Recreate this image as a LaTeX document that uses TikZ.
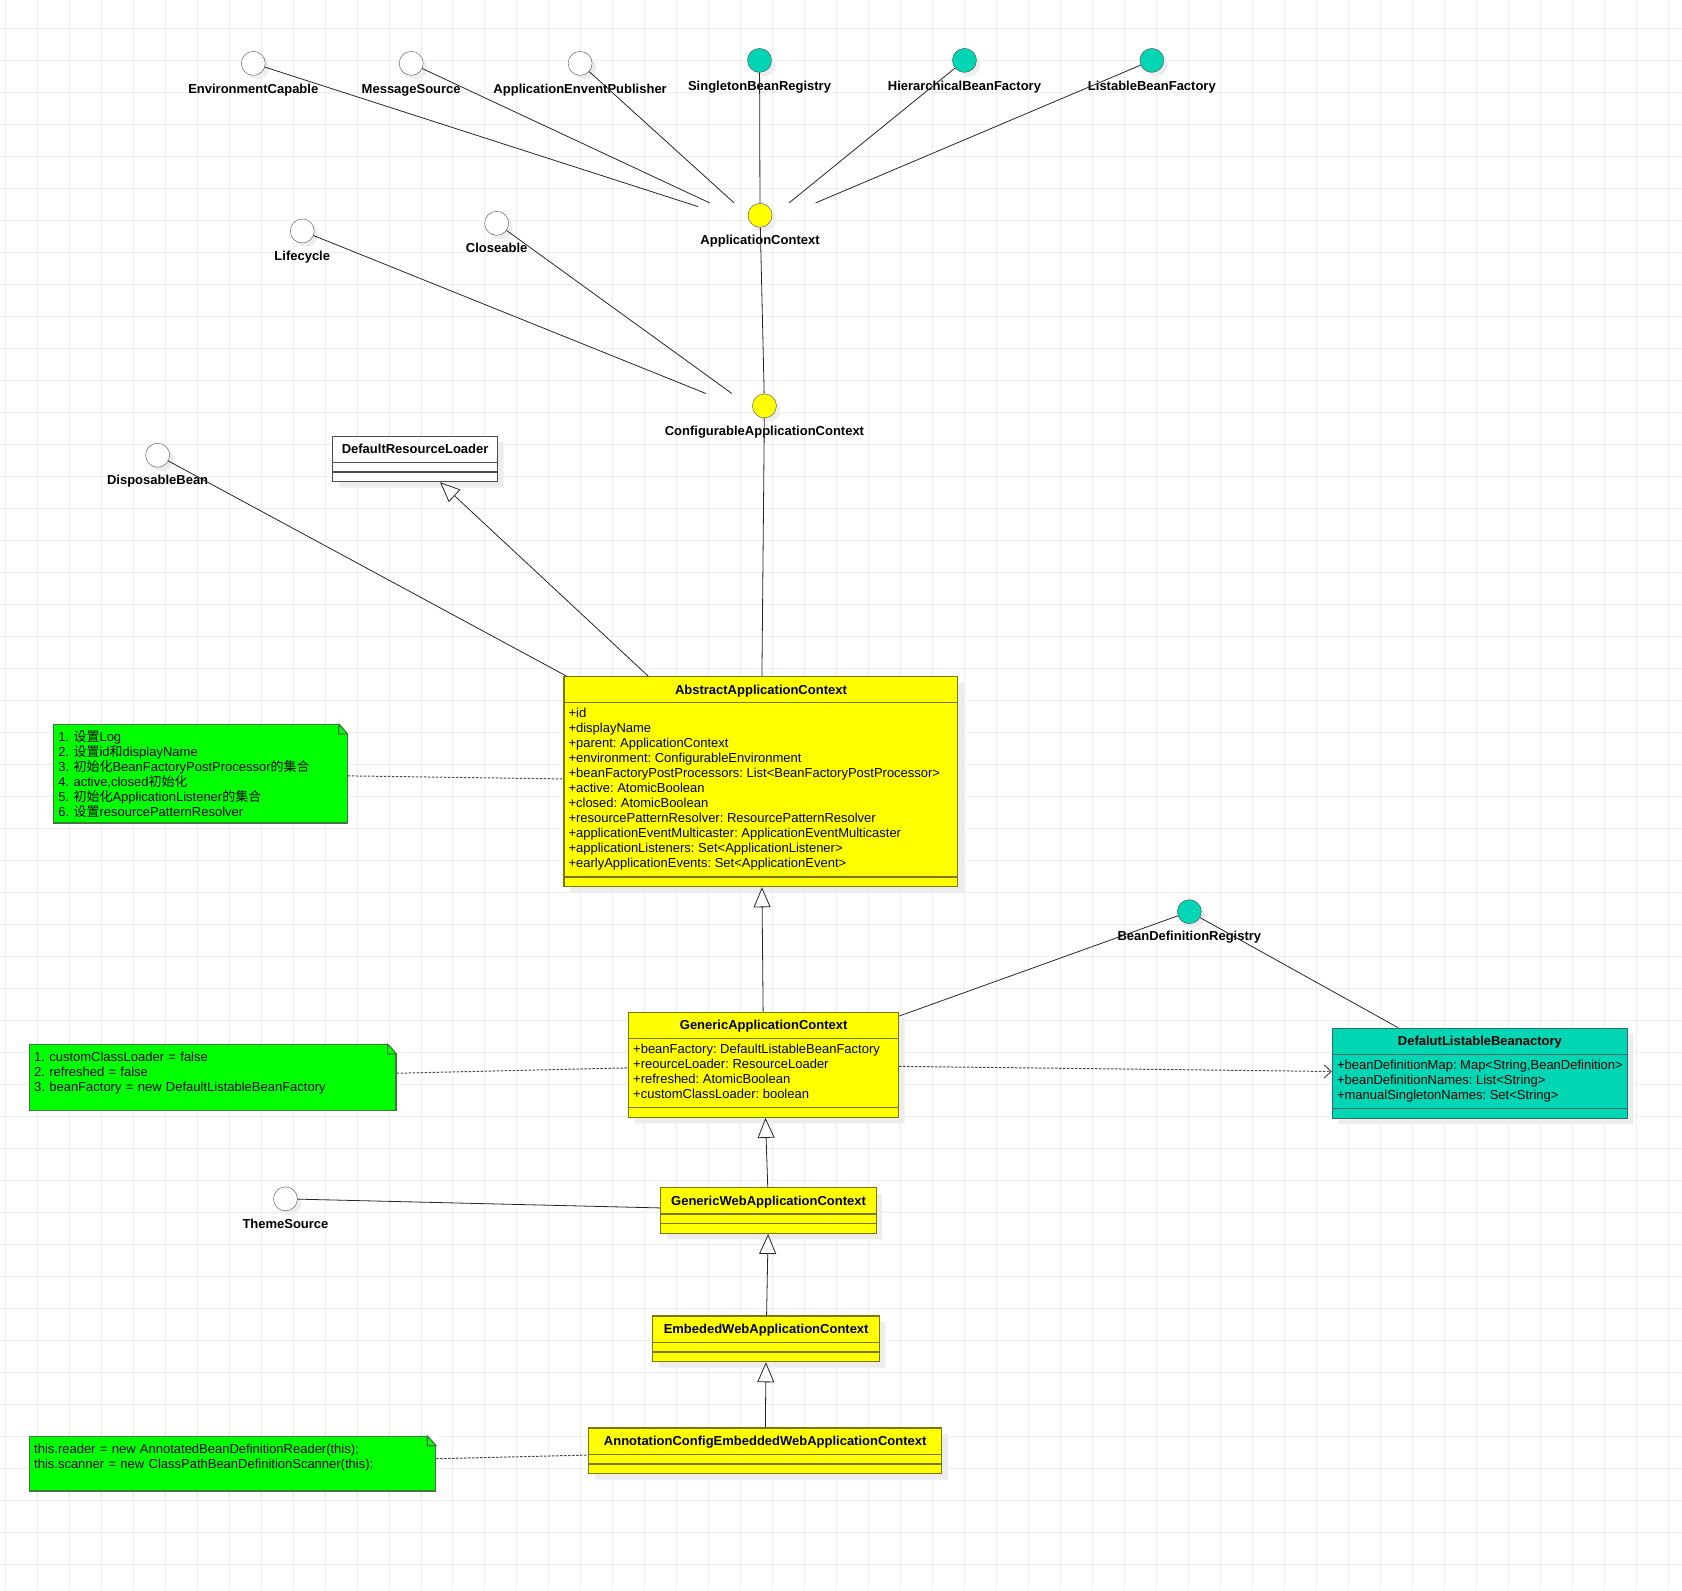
\documentclass[tikz,border=0pt]{standalone}
\usepackage{fontspec}
\setmainfont{Liberation Sans}
\newfontfamily\zhfont{Noto Sans CJK SC}
\usetikzlibrary{arrows.meta,shapes.multipart,shadows,fit}
\frenchspacing

\definecolor{umlyellow}{HTML}{FFFF00}
\definecolor{umlolive}{HTML}{77770A}
\definecolor{umlteal}{HTML}{00D6B4}
\definecolor{umldarkteal}{HTML}{2E6E64}
\definecolor{notegreen}{HTML}{00FF00}
\definecolor{notedark}{HTML}{3C7A3C}
\definecolor{gridgray}{HTML}{EEEEEE}

\newcommand{\zh}[1]{{\zhfont #1}}
\newcommand{\hstrut}{\rule[-4pt]{0pt}{17pt}}
\newcommand{\epart}{\rule{0pt}{0.5pt}}

\begin{document}
\begin{tikzpicture}[x=1pt, y=-1pt, font=\fontsize{13}{15}\selectfont,
  iface/.style={circle, draw=black!70, fill=white, minimum size=24pt, inner sep=0pt,
    drop shadow={shadow xshift=4pt, shadow yshift=-4pt, opacity=1, fill=black!7}},
  iname/.style={anchor=base, font=\fontsize{13}{15}\selectfont\bfseries, inner sep=2pt},
  umlclass/.style={rectangle split, rectangle split parts=3, anchor=north west,
    draw=umlolive, fill=umlyellow, line width=1.2pt, inner xsep=4.5pt, inner ysep=4pt,
    rectangle split part align={center,left,left},
    drop shadow={shadow xshift=6pt, shadow yshift=-6pt, opacity=1, fill=black!7}},
  umlnote/.style={rectangle, anchor=north west, draw=notedark, fill=notegreen, line width=1.2pt,
    inner xsep=5pt, inner ysep=3pt, align=left, text height=14.3pt},
  realize/.style={draw=black!85, line width=0.8pt},
  gen/.style={draw=black!85, line width=0.8pt, -{Triangle[length=20pt, width=17pt, fill=white]}},
  dep/.style={draw=black!70, line width=1pt, dash pattern=on 2.5pt off 1.5pt, -{Straight Barb[length=7pt, width=13pt]}},
  anno/.style={draw=black!70, line width=1pt, dash pattern=on 2.5pt off 1.5pt}
]
  % background grid
  \fill[white] (0,0) rectangle (1682,1590);
  \foreach \gx in {0,...,52} \draw[gridgray, line width=0.8pt] ({4.7+32*\gx},0) -- ({4.7+32*\gx},1590);
  \foreach \gy in {0,...,48} \draw[gridgray, line width=0.8pt] (0,{28.3+32*\gy}) -- (1682,{28.3+32*\gy});
  \useasboundingbox (0,0) rectangle (1682,1590);

  % interfaces of ApplicationContext
  \node[iface] (ec) at (253,63) {};
  \node[iname] (ec-t) at (253,92.7) {EnvironmentCapable};
  \node[iface] (ms) at (411,63) {};
  \node[iname] (ms-t) at (411,92.7) {MessageSource};
  \node[iface] (aep) at (580,63) {};
  \node[iname] (aep-t) at (580,92.7) {ApplicationEnventPublisher};
  \node[iface, fill=umlteal] (sbr) at (759.5,60) {};
  \node[iname] (sbr-t) at (759.5,89.7) {SingletonBeanRegistry};
  \node[iface, fill=umlteal] (hbf) at (964.5,60) {};
  \node[iname] (hbf-t) at (964.5,89.7) {HierarchicalBeanFactory};
  \node[iface, fill=umlteal] (lbf) at (1152,60) {};
  \node[iname] (lbf-t) at (1152,89.7) {ListableBeanFactory};
  \node[iface, fill=umlyellow] (ac) at (760,215) {};
  \node[iname] (ac-t) at (760,244.7) {ApplicationContext};
  \node[fit=(ac)(ac-t), inner sep=0pt] (ac-box) {};

  % interfaces of ConfigurableApplicationContext
  \node[iface] (lc) at (302,230.7) {};
  \node[iname] (lc-t) at (302,260.4) {Lifecycle};
  \node[iface] (cl) at (496.5,223) {};
  \node[iname] (cl-t) at (496.5,252.4) {Closeable};
  \node[iface, fill=umlyellow] (cac) at (764.4,405.7) {};
  \node[iname] (cac-t) at (764.4,435.4) {ConfigurableApplicationContext};
  \node[fit=(cac)(cac-t), inner sep=0pt] (cac-box) {};

  \node[iface] (db) at (157.3,455) {};
  \node[iname] (db-t) at (157.3,484.7) {DisposableBean};

  % classes
  \node[umlclass, fill=white, draw=black!70, minimum width=165pt] (drl) at (331.8,435.3)
    {\hstrut\textbf{DefaultResourceLoader}\nodepart{two}\epart\nodepart{three}\epart};
  \node[umlclass, minimum width=394pt] (aac) at (563.3,676)
    {\hstrut\textbf{AbstractApplicationContext}\nodepart{two}\begin{tabular}{@{}l@{}}
      +id\\+displayName\\+parent: ApplicationContext\\+environment: ConfigurableEnvironment\\
      +beanFactoryPostProcessors: List<BeanFactoryPostProcessor>\\+active: AtomicBoolean\\
      +closed: AtomicBoolean\\+resourcePatternResolver: ResourcePatternResolver\\
      +applicationEventMulticaster: ApplicationEventMulticaster\\
      +applicationListeners: Set<ApplicationListener>\\+earlyApplicationEvents: Set<ApplicationEvent>
    \end{tabular}\nodepart{three}\epart};
  \node[umlnote, text width=284pt, text depth=78pt] (note-aac) at (52.4,724)
    {1. \zh{设置}Log\\2. \zh{设置}id\zh{和}displayName\\3. \zh{初始化}BeanFactoryPostProcessor\zh{的集合}\\
     4. active,closed\zh{初始化}\\5. \zh{初始化}ApplicationListener\zh{的集合}\\6. \zh{设置}resourcePatternResolver};

  \node[umlclass, minimum width=270pt] (gac) at (628,1011.7)
    {\hstrut\textbf{GenericApplicationContext}\nodepart{two}\begin{tabular}{@{}l@{}}
      +beanFactory: DefaultListableBeanFactory\\+reourceLoader: ResourceLoader\\
      +refreshed: AtomicBoolean\\+customClassLoader: boolean
    \end{tabular}\nodepart{three}\epart};
  \node[umlnote, text width=357pt, text depth=45.7pt] (note-gac) at (28.2,1044)
    {1. customClassLoader = false\\2. refreshed = false\\3. beanFactory = new DefaultListableBeanFactory};

  \node[iface, fill=umlteal] (bdr) at (1189.5,911.7) {};
  \node[iname] (bdr-t) at (1189.5,940.7) {BeanDefinitionRegistry};
  \node[umlclass, fill=umlteal, draw=umldarkteal, minimum width=294.6pt] (dlb) at (1332.2,1027.7)
    {\hstrut\textbf{DefalutListableBeanactory}\nodepart{two}\begin{tabular}{@{}l@{}}
      +beanDefinitionMap: Map<String,BeanDefinition>\\+beanDefinitionNames: List<String>\\
      +manualSingletonNames: Set<String>
    \end{tabular}\nodepart{three}\epart};

  \node[umlclass, minimum width=215.4pt] (gwac) at (660.2,1187.3)
    {\hstrut\textbf{GenericWebApplicationContext}\nodepart{two}\epart\nodepart{three}\epart};
  \node[iface] (ts) at (285.2,1199) {};
  \node[iname] (ts-t) at (285.2,1228.4) {ThemeSource};
  \node[umlclass, minimum width=226.6pt] (ewac) at (652.2,1315.7)
    {\hstrut\textbf{EmbededWebApplicationContext}\nodepart{two}\epart\nodepart{three}\epart};
  \node[umlclass, minimum width=353.3pt] (acewac) at (587.9,1427.7)
    {\hstrut\textbf{AnnotationConfigEmbeddedWebApplicationContext}\nodepart{two}\epart\nodepart{three}\epart};
  \node[umlnote, text width=396.6pt, text depth=34.4pt] (note-acewac) at (28.2,1436)
    {this.reader = new AnnotatedBeanDefinitionReader(this);\\this.scanner = new ClassPathBeanDefinitionScanner(this);};

  % folded corners of the notes
  \foreach \n in {note-aac,note-gac,note-acewac} {
    \fill[white] ([shift={(-9.6pt,0.8pt)}]\n.north east) -- ([shift={(0.8pt,0.8pt)}]\n.north east)
      -- ([shift={(0.8pt,-10.6pt)}]\n.north east) -- cycle;
    \filldraw[fill=notegreen, draw=notedark, line width=1.2pt, line join=round]
      ([xshift=-9pt]\n.north east) |- ([yshift=-10pt]\n.north east) -- cycle;
  }

  % connectors
  \draw[realize] (ec) -- (ac-box);
  \draw[realize] (ms) -- (ac-box);
  \draw[realize] (aep) -- (ac-box);
  \draw[realize] (sbr) -- (ac-box);
  \draw[realize] (hbf) -- (ac-box);
  \draw[realize] (lbf) -- (ac-box);
  \draw[realize] (ac) -- (cac);
  \draw[realize] (lc) -- (cac-box);
  \draw[realize] (cl) -- (cac-box);
  \draw[realize] (cac) -- (aac);
  \draw[realize] (db) -- (aac);
  \draw[gen] (aac) -- (drl);
  \draw[anno] (note-aac) -- (aac);
  \draw[gen] (gac) -- (aac);
  \draw[anno] (note-gac) -- (gac);
  \draw[realize] (gac) -- (bdr);
  \draw[realize] (bdr) -- (dlb);
  \draw[dep] (gac) -- (dlb);
  \draw[gen] (gwac) -- (gac);
  \draw[realize] (ts) -- (gwac);
  \draw[gen] (ewac) -- (gwac);
  \draw[gen] (acewac) -- (ewac);
  \draw[anno] (note-acewac) -- (acewac);
\end{tikzpicture}
\end{document}
